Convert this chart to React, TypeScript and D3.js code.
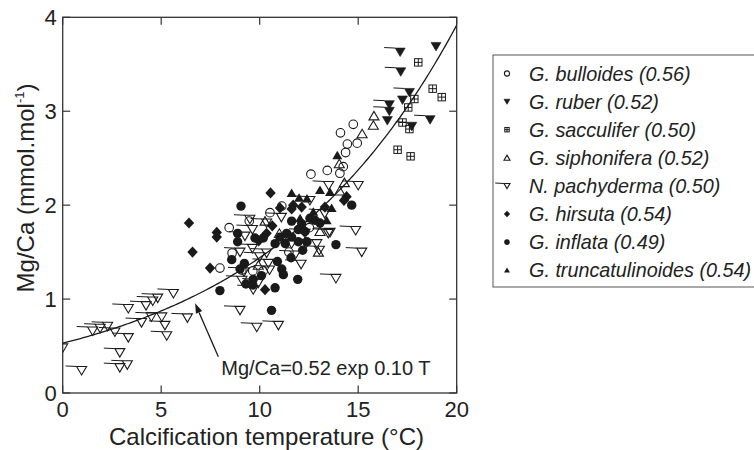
import React from 'react';
import * as d3 from 'd3';

const xTicks = [0, 5, 10, 15, 20];
const yTicks = [0, 1, 2, 3, 4];
const xLabel = 'Calcification temperature (°C)';
const fitA = 0.53;
const fitB = 0.10;
const fitLabel = 'Mg/Ca=0.52 exp 0.10 T';

const bulloides: [number, number][] = [
  [14.75, 2.86], [14.1, 2.77], [14.45, 2.65], [14.95, 2.66], [14.36, 2.56], [14.24, 2.41],
  [14.07, 2.34], [13.43, 2.37], [12.6, 2.33], [11.12, 1.99], [8.45, 1.76], [9.47, 1.83],
  [7.98, 1.33], [8.6, 1.49], [9.65, 1.30], [10.52, 1.92], [10.18, 1.30], [11.48, 1.50],
  [12.52, 1.76], [9.09, 1.31],
];
const ruber: [number, number][] = [
  [17.13, 3.63], [18.95, 3.69], [17.16, 3.42], [17.6, 3.20], [17.25, 3.12], [16.58, 3.07],
  [16.58, 3.0], [16.48, 2.90], [18.65, 2.91], [17.72, 2.84],
];
const sacculifer: [number, number][] = [
  [18.05, 3.52], [18.78, 3.24], [19.24, 3.15], [17.85, 3.13], [17.54, 3.04], [17.25, 2.88],
  [17.6, 2.81], [17.0, 2.59], [17.66, 2.52],
];
const siphonifera: [number, number][] = [
  [15.8, 2.95], [15.77, 2.85], [15.2, 2.76], [14.04, 2.44], [14.3, 2.24], [14.06, 2.15],
  [13.06, 1.72], [12.98, 1.50], [10.27, 1.83], [9.93, 1.36], [11.0, 1.70],
];
const pachyderma: [number, number][] = [
  [0.0, 0.48], [0.96, 0.24], [1.52, 0.66], [1.9, 0.69], [2.28, 0.71], [2.65, 0.65],
  [3.33, 0.59], [2.9, 0.43], [2.9, 0.27], [3.28, 0.30], [3.33, 0.90], [4.0, 0.75],
  [4.23, 0.93], [4.5, 0.81], [4.57, 0.98], [4.82, 1.01], [5.03, 0.81], [5.19, 0.72],
  [5.28, 0.61], [5.62, 1.06], [6.33, 0.80], [9.0, 0.88], [9.85, 0.70], [10.95, 0.72],
  [13.87, 1.22], [15.18, 1.50], [14.87, 1.73], [12.1, 1.37], [13.57, 1.71], [13.03, 1.52],
  [12.35, 1.59], [15.0, 2.21], [13.5, 2.21], [12.55, 2.05], [9.25, 1.67], [9.63, 1.74],
  [9.63, 1.54], [9.0, 1.50], [9.2, 1.29], [10.35, 1.81], [10.35, 1.49], [10.44, 1.38],
  [10.5, 1.31], [9.93, 1.17], [9.67, 1.10], [11.62, 1.59], [12.3, 1.70], [12.9, 1.59],
  [13.48, 1.70], [13.3, 1.91], [11.1, 1.87], [9.5, 1.85], [9.1, 1.20], [11.8, 1.47],
  [10.0, 1.45],
];
const hirsuta: [number, number][] = [
  [6.41, 1.81], [6.59, 1.50], [7.82, 1.71], [7.82, 1.66], [7.48, 1.33], [10.55, 2.13],
  [11.03, 1.97], [11.7, 2.0], [11.62, 1.96], [12.13, 1.98], [14.41, 2.09], [14.28, 2.05],
  [10.64, 1.78], [10.35, 1.70], [10.27, 1.10], [13.31, 1.98], [9.95, 1.62],
];
const inflata: [number, number][] = [
  [9.05, 1.99], [8.88, 1.70], [8.88, 1.61], [9.76, 1.65], [8.58, 1.42], [9.22, 1.38],
  [9.0, 1.32], [7.98, 1.09], [9.3, 1.16], [9.67, 1.21], [14.67, 2.0], [11.62, 1.83],
  [12.13, 1.80], [12.55, 1.86], [13.06, 1.81], [11.37, 1.70], [11.96, 1.74], [12.3, 1.72],
  [11.62, 1.66], [11.96, 1.61], [12.4, 1.61], [11.03, 1.66], [10.78, 1.59], [11.3, 1.59],
  [12.18, 1.52], [13.87, 1.58], [10.9, 1.40], [11.59, 1.44], [11.12, 1.32], [11.2, 1.26],
  [11.93, 1.21], [10.18, 1.65], [10.09, 1.25], [10.78, 1.12], [10.6, 0.88], [9.65, 1.15],
  [12.8, 1.84],
];
const truncatulinoides: [number, number][] = [
  [13.94, 2.53], [11.62, 2.13], [13.06, 2.16], [13.57, 2.14], [12.0, 2.08], [13.65, 1.97],
  [12.72, 1.93], [13.4, 1.84], [12.05, 1.86], [12.4, 2.07],
];

const speciesNames = [
  'G. bulloides (0.56)', 'G. ruber (0.52)', 'G. sacculifer (0.50)', 'G. siphonifera (0.52)',
  'N. pachyderma (0.50)', 'G. hirsuta (0.54)', 'G. inflata (0.49)', 'G. truncatulinoides (0.54)',
];
const speciesData = [bulloides, ruber, sacculifer, siphonifera, pachyderma, hirsuta, inflata, truncatulinoides];
const speciesShape = ['openCircle', 'filledDown', 'crossSquare', 'openUp', 'openDown', 'diamond', 'filledCircle', 'filledUp'];
const drawOrder = [4, 0, 3, 2, 1, 5, 6, 7];

const INK = '#1a1a1a';
const FONT = '"Liberation Sans", Arial, sans-serif';

function Marker({ kind, cx, cy, k, flag }: { kind: string; cx: number; cy: number; k: number; flag: boolean }) {
  const sw = 1.1;
  const w = 5 * k, h = 4 * k;
  switch (kind) {
    case 'openCircle':
      return <circle cx={cx} cy={cy} r={4.3 * k} fill="none" stroke={INK} strokeWidth={sw} />;
    case 'filledCircle':
      return <circle cx={cx} cy={cy} r={4.7 * k} fill={INK} />;
    case 'diamond':
      return <path d={`M${cx},${cy - 5.6 * k}L${cx + 5.2 * k},${cy}L${cx},${cy + 5.6 * k}L${cx - 5.2 * k},${cy}Z`} fill={INK} />;
    case 'filledUp':
      return <path d={`M${cx - w},${cy + h}L${cx + w},${cy + h}L${cx},${cy - h - 0.5 * k}Z`} fill={INK} />;
    case 'openUp':
      return <path d={`M${cx - w},${cy + h}L${cx + w},${cy + h}L${cx},${cy - h - 0.5 * k}Z`} fill="none" stroke={INK} strokeWidth={sw} />;
    case 'filledDown':
    case 'openDown': {
      const filled = kind === 'filledDown';
      return (
        <g>
          {flag && <line x1={cx - w - 11 * Math.max(k, 0.8)} y1={cy - h - 0.5} x2={cx - w} y2={cy - h} stroke={INK} strokeWidth={1} />}
          <path d={`M${cx - w},${cy - h}L${cx + w},${cy - h}L${cx},${cy + h + 0.5 * k}Z`}
            fill={filled ? INK : 'none'} stroke={INK} strokeWidth={filled ? 0.6 : sw} />
        </g>
      );
    }
    case 'crossSquare': {
      const s = 3.7 * k;
      return (
        <g stroke={INK} strokeWidth={1} fill="none">
          <rect x={cx - s} y={cy - s} width={2 * s} height={2 * s} />
          <line x1={cx - s} y1={cy} x2={cx + s} y2={cy} />
          <line x1={cx} y1={cy - s} x2={cx} y2={cy + s} />
        </g>
      );
    }
  }
  return null;
}

export default function App() {
  const W = 754, H = 450;
  const x = d3.scaleLinear().domain([0, 20]).range([62.7, 456.7]);
  const y = d3.scaleLinear().domain([0, 4]).range([393, 17.3]);
  const curveT = d3.range(0, 20.001, 0.1);
  const line = d3.line<number>().x((t) => x(t)).y((t) => y(fitA * Math.exp(fitB * t)));
  const tick = 7.5;

  // arrow
  const ax1 = x(7.9), ay1 = y(0.386), ax2 = x(6.72), ay2 = y(0.955);
  const ang = Math.atan2(ay2 - ay1, ax2 - ax1);
  const aL = 10, aW = 3.4;
  const bx = ax2 - aL * Math.cos(ang), by = ay2 - aL * Math.sin(ang);
  const px = -Math.sin(ang) * aW, py = Math.cos(ang) * aW;

  const legX = 493, legY = 55, legW = 262, legH = 232;
  const rowY0 = 73.5, rowDy = 28.1;

  return (
    <svg width={W} height={H} style={{ position: 'absolute', left: 0, top: 0, background: '#fff' }} fontFamily={FONT}>
      <defs>
        <clipPath id="plotclip"><rect x={x(0)} y={y(4)} width={x(20) - x(0)} height={y(0) - y(4)} /></clipPath>
      </defs>
      {/* frame */}
      <rect x={x(0)} y={y(4)} width={x(20) - x(0)} height={y(0) - y(4)} fill="none" stroke="#333" strokeWidth={1.3} />
      {xTicks.map((t) => (
        <g key={'xt' + t}>
          <line x1={x(t)} x2={x(t)} y1={y(0)} y2={y(0) - tick} stroke="#333" strokeWidth={1.2} />
          <line x1={x(t)} x2={x(t)} y1={y(4)} y2={y(4) + tick} stroke="#333" strokeWidth={1.2} />
          <text x={x(t)} y={y(0) + 24} textAnchor="middle" fontSize={22} fill="#222">{t}</text>
        </g>
      ))}
      {yTicks.map((v) => (
        <g key={'yt' + v}>
          <line x1={x(0)} x2={x(0) + tick} y1={y(v)} y2={y(v)} stroke="#333" strokeWidth={1.2} />
          <line x1={x(20)} x2={x(20) - tick} y1={y(v)} y2={y(v)} stroke="#333" strokeWidth={1.2} />
          <text x={x(0) - 6} y={y(v) + 8} textAnchor="end" fontSize={22} fill="#222">{v}</text>
        </g>
      ))}
      <text x={266.5} y={445} textAnchor="middle" fontSize={24} fill="#222">{xLabel}</text>
      <text transform={`translate(34,${188}) rotate(-90)`} textAnchor="middle" fontSize={24} fill="#222">
        Mg/Ca (mmol.mol<tspan fontSize={13} dy={-10}>-1</tspan><tspan dy={10}>)</tspan>
      </text>

      {/* fit curve */}
      <path d={line(curveT) || ''} fill="none" stroke={INK} strokeWidth={1.3} clipPath="url(#plotclip)" />

      {/* points */}
      <g clipPath="url(#plotclip)">
        {drawOrder.map((si) =>
          speciesData[si].map((d, i) => (
            <Marker key={si + '-' + i} kind={speciesShape[si]} cx={x(d[0])} cy={y(d[1])} k={1}
              flag={si === 4 || (si === 1 && i % 3 !== 1)} />
          ))
        )}
      </g>

      {/* annotation */}
      <line x1={ax1} y1={ay1} x2={bx} y2={by} stroke={INK} strokeWidth={1.3} />
      <path d={`M${ax2},${ay2}L${bx + px},${by + py}L${bx - px},${by - py}Z`} fill={INK} />
      <text x={x(8.05)} y={y(0.19)} fontSize={20} fill="#222">{fitLabel}</text>

      {/* legend */}
      <rect x={legX} y={legY} width={legW} height={legH} fill="#fff" stroke="#555" strokeWidth={1} />
      {speciesNames.map((n, i) => (
        <g key={'lg' + i}>
          <Marker kind={speciesShape[i]} cx={507} cy={rowY0 + i * rowDy} k={0.6} flag={i === 4} />
          <text x={529} y={rowY0 + i * rowDy + 7} fontSize={19.8} fontStyle="italic" fill="#222">{n}</text>
        </g>
      ))}
    </svg>
  );
}
